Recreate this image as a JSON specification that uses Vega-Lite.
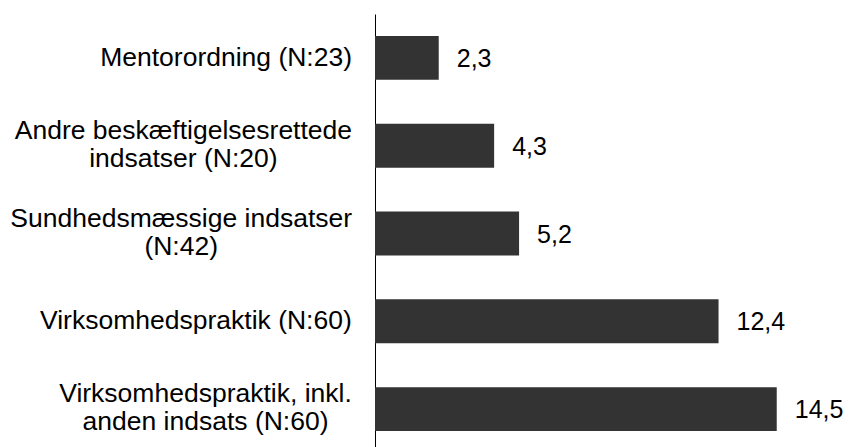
{
  "$schema": "https://vega.github.io/schema/vega-lite/v6.json",
  "autosize": {"type": "none"},
  "padding": {"left": 375, "top": 14, "right": 0, "bottom": 0},
  "width": 471,
  "height": 439,
  "background": "white",
  "config": {
    "view": {"stroke": null},
    "font": "Liberation Sans",
    "locale": {"number": {"decimal": ",", "thousands": ".", "grouping": [3], "currency": ["", " kr."]}}
  },
  "data": {
    "values": [
      {"label": "Mentorordning (N:23)", "order": 1, "value": 2.3},
      {"label": "Andre beskæftigelsesrettede\nindsatser (N:20)", "order": 2, "value": 4.3},
      {"label": "Sundhedsmæssige indsatser\n(N:42)", "order": 3, "value": 5.2},
      {"label": "Virksomhedspraktik (N:60)", "order": 4, "value": 12.4},
      {"label": "Virksomhedspraktik, inkl.\nanden indsats (N:60)", "order": 5, "value": 14.5}
    ]
  },
  "encoding": {
    "y": {
      "field": "label",
      "type": "nominal",
      "sort": {"field": "order"},
      "scale": {"paddingInner": 0.5, "paddingOuter": 0.25},
      "axis": {
        "title": null,
        "ticks": false,
        "domain": true,
        "domainColor": "#000000",
        "domainWidth": 1,
        "labelFontSize": 26.5,
        "labelColor": "#000000",
        "labelAlign": "center",
        "labelLineHeight": 28,
        "labelLimit": 500,
        "labelExpr": "split(datum.label, '\\n')",
        "labelOffset": {
          "condition": [
            {"test": "datum.value === 'Andre beskæftigelsesrettede\\nindsatser (N:20)'", "value": -15},
            {"test": "datum.value === 'Sundhedsmæssige indsatser\\n(N:42)'", "value": -15},
            {"test": "datum.value === 'Virksomhedspraktik, inkl.\\nanden indsats (N:60)'", "value": -15}
          ],
          "value": 0
        },
        "labelPadding": {
          "condition": [
            {"test": "datum.value === 'Mentorordning (N:23)'", "value": 149.4},
            {"test": "datum.value === 'Andre beskæftigelsesrettede\\nindsatser (N:20)'", "value": 192.1},
            {"test": "datum.value === 'Sundhedsmæssige indsatser\\n(N:42)'", "value": 194.3},
            {"test": "datum.value === 'Virksomhedspraktik, inkl.\\nanden indsats (N:60)'", "value": 170.0}
          ],
          "value": 179.6
        }
      }
    },
    "x": {
      "field": "value",
      "type": "quantitative",
      "scale": {"domain": [0, 17]},
      "axis": null
    }
  },
  "layer": [
    {"mark": {"type": "bar", "color": "#333333"}},
    {
      "mark": {"type": "text", "align": "left", "baseline": "middle", "dx": 18, "dy": 1, "fontSize": 25, "color": "#000000"},
      "encoding": {"text": {"field": "value", "type": "quantitative", "format": ".1f"}}
    }
  ]
}
